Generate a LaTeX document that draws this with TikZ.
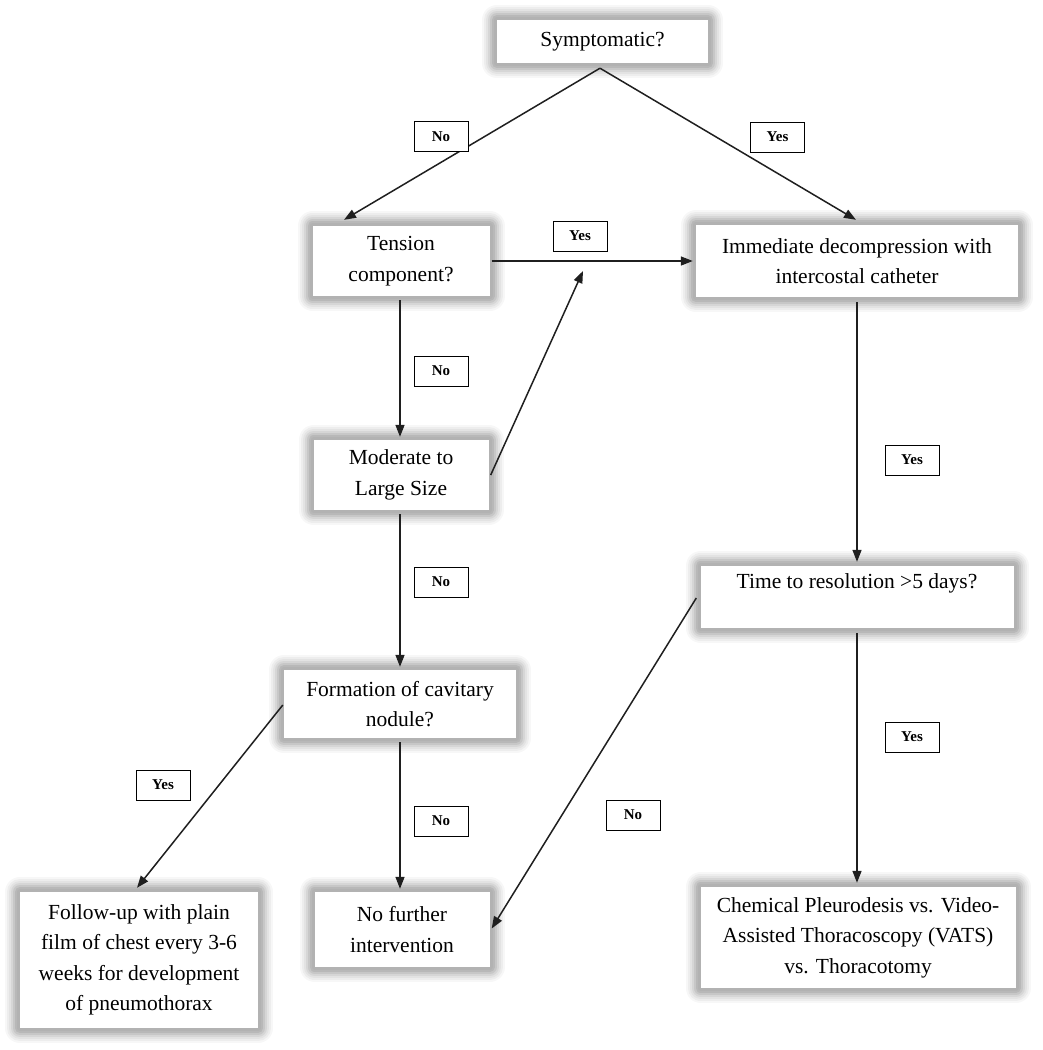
\documentclass[tikz,border=0pt]{standalone}
\usepackage{fontspec}
\setmainfont{Liberation Serif}
\usetikzlibrary{arrows.meta,calc}
\newcommand\boxfont{\fontsize{21.5}{30.5}\selectfont}
\newcommand\labfont{\fontsize{15}{17}\selectfont\bfseries}
\begin{document}
\begin{tikzpicture}[x=1pt,y=-1pt,
  glow/.style={fill=white, align=center, font=\boxfont, inner sep=0pt,
    line join=round,
    preaction={draw=black!3, line width=30pt},
    preaction={draw=black!7, line width=26pt},
    preaction={draw=black!11, line width=22pt},
    preaction={draw=black!16, line width=18pt},
    preaction={draw=black!22, line width=14pt},
    preaction={draw=black!28, line width=10pt},
    preaction={draw=black!30, line width=6pt}},
  lab/.style={draw=black, line width=0.9pt, fill=white, font=\labfont,
    minimum width=54pt, minimum height=30pt, inner sep=0pt},
  arr/.style={draw=black!88, line width=1.5pt,
    -{Triangle[length=12pt,width=9pt]}}]
\useasboundingbox (0,0) rectangle (1043,1050);

% boxes
\node[glow, minimum width=211pt, minimum height=43pt] (sym) at (602.5,41.5) {Symptomatic?};
\node[glow, minimum width=177pt, minimum height=70pt] (ten) at (401,261) {Tension\\component?};
\node[glow, minimum width=322pt, minimum height=72pt] (imm) at (857,261) {Immediate decompression with\\intercostal catheter};
\node[glow, minimum width=175pt, minimum height=70pt] (mod) at (401,475) {Moderate to\\Large Size};
\node[glow, minimum width=313pt, minimum height=62pt] (time) at (857,597) {Time to resolution >5 days?\\[2pt]~};
\node[glow, minimum width=232pt, minimum height=68pt] (form) at (400,704) {Formation of cavitary\\nodule?};
\node[glow, minimum width=238pt, minimum height=136pt] (fol) at (139,960) {Follow-up with plain\\film of chest every 3-6\\weeks for development\\of pneumothorax};
\node[glow, minimum width=175pt, minimum height=75pt] (nof) at (402,929.5) {No further\\intervention};
\node[glow, minimum width=315pt, minimum height=101pt] (chem) at (858,937.5) {Chemical Pleurodesis vs. Video-\\Assisted Thoracoscopy (VATS)\\vs. Thoracotomy};

\coordinate (apex) at ($(sym.south)+(-2.5,5)$);
\coordinate (mid) at (583,271);

% connectors
\draw[arr] (apex) -- ($(ten.north)+(-57,-6)$);
\draw[arr] (apex) -- ($(imm.north)+(-1,-5)$);
\draw[arr] ($(ten.east)+(2,0)$) -- ($(imm.west)+(-3,0)$);
\draw[arr] ($(mod.east)+(2,0)$) -- (mid);
\draw[arr] ($(ten.south)+(-1,4)$) -- ($(mod.north)+(-1,-3)$);
\draw[arr] ($(mod.south)+(-1,4)$) -- ($(form.north)+(0,-3)$);
\draw[arr] ($(form.south)+(0,4)$) -- ($(nof.north)+(-2,-3)$);
\draw[arr] ($(form.west)+(-1,1)$) -- ($(fol.north)+(-2,-4)$);
\draw[arr] ($(time.west)+(-4,1)$) -- ($(nof.east)+(2,-1)$);
\draw[arr] ($(imm.south)+(0,5)$) -- ($(time.north)+(0,-4)$);
\draw[arr] ($(time.south)+(0,5)$) -- ($(chem.north)+(-1,-4)$);

% labels
\node[lab] (l1) at (441,136.5) {No};
\node[lab] (l2) at (777.5,137) {Yes};
\node[lab] (l3) at (580,236) {Yes};
\node[lab] (l4) at (441,371) {No};
\node[lab] (l5) at (912,460) {Yes};
\node[lab] (l6) at (441,582) {No};
\node[lab] (l7) at (912,737) {Yes};
\node[lab] (l8) at (163,785) {Yes};
\node[lab] (l9) at (441,821) {No};
\node[lab] (l10) at (633,815) {No};
\end{tikzpicture}
\end{document}
